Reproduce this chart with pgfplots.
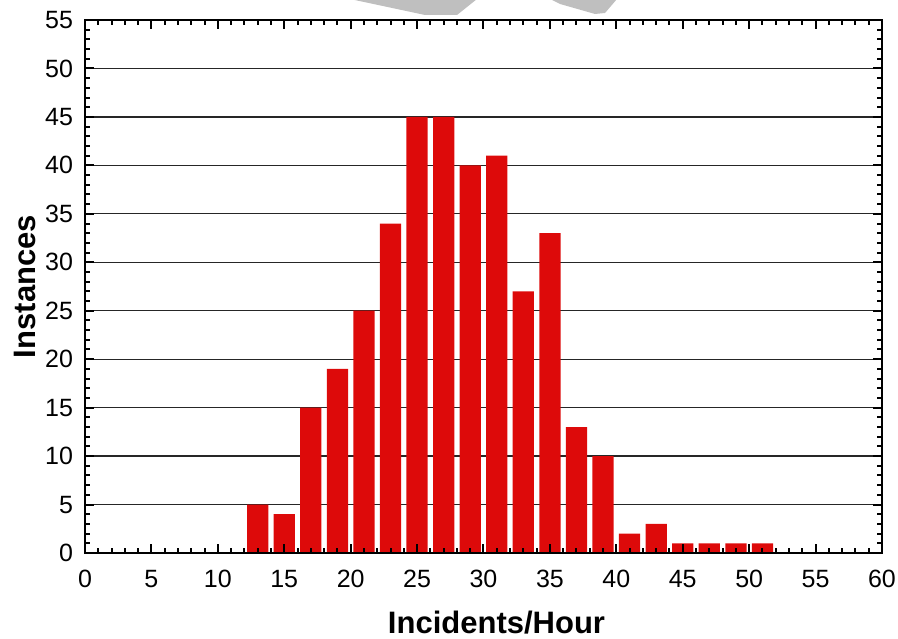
\documentclass[border=0pt]{standalone}
\usepackage{pgfplots}
\pgfplotsset{compat=1.18}
\usepackage{fontspec}
\setmainfont{Liberation Sans}
\definecolor{barred}{HTML}{DD0A0A}
\begin{document}
\begin{tikzpicture}
\useasboundingbox (-42.5pt,-42.5pt) rectangle (406.5pt,276.5pt);
\begin{scope}
\clip (-42.5pt,-42.5pt) rectangle (406.5pt,276.5pt);
\fill[black!25] (132.5pt,277pt) -- (170pt,269pt) -- (186pt,269pt) -- (196pt,277pt) -- cycle;
\fill[black!25] (232.5pt,277pt) -- (266pt,277pt) -- (260pt,270pt) -- (255pt,269.5pt) -- (237.5pt,274.5pt) -- cycle;
\end{scope}
\begin{axis}[
  scale only axis,
  width=398.5pt, height=266.5pt,
  xmin=0, xmax=60, ymin=0, ymax=55,
  xtick={0,5,...,60}, ytick={0,5,...,55},
  minor x tick num=4, minor y tick num=4,
  tick align=inside,
  major tick length=4.5pt, minor tick length=2.5pt,
  tick style={line width=1pt, black},
  axis line style={line width=1.2pt},
  axis on top,
  /pgf/number format/assume math mode=true,
  ticklabel style={font=\fontsize{12.5}{13}\selectfont},
  xlabel={\bfseries Incidents/Hour},
  ylabel={\bfseries Instances},
  label style={font=\fontsize{15.5}{17}\selectfont},
  xlabel style={yshift=-5pt, xshift=6.5pt},
  ylabel style={yshift=-2pt},
  xticklabel style={yshift=-5pt},
  yticklabel style={xshift=-2.5pt},
]
\pgfplotsinvokeforeach{5,10,...,50}{
  \addplot[black!85, line width=0.6pt, forget plot] coordinates {(0,#1) (60,#1)};
}
\addplot[ybar, bar width=1.6, fill=barred, draw=none, bar shift=0pt] coordinates {
(13,5) (15,4) (17,15) (19,19) (21,25) (23,34) (25,45) (27,45) (29,40) (31,41)
(33,27) (35,33) (37,13) (39,10) (41,2) (43,3) (45,1) (47,1) (49,1) (51,1)
};
\end{axis}
\end{tikzpicture}
\end{document}
